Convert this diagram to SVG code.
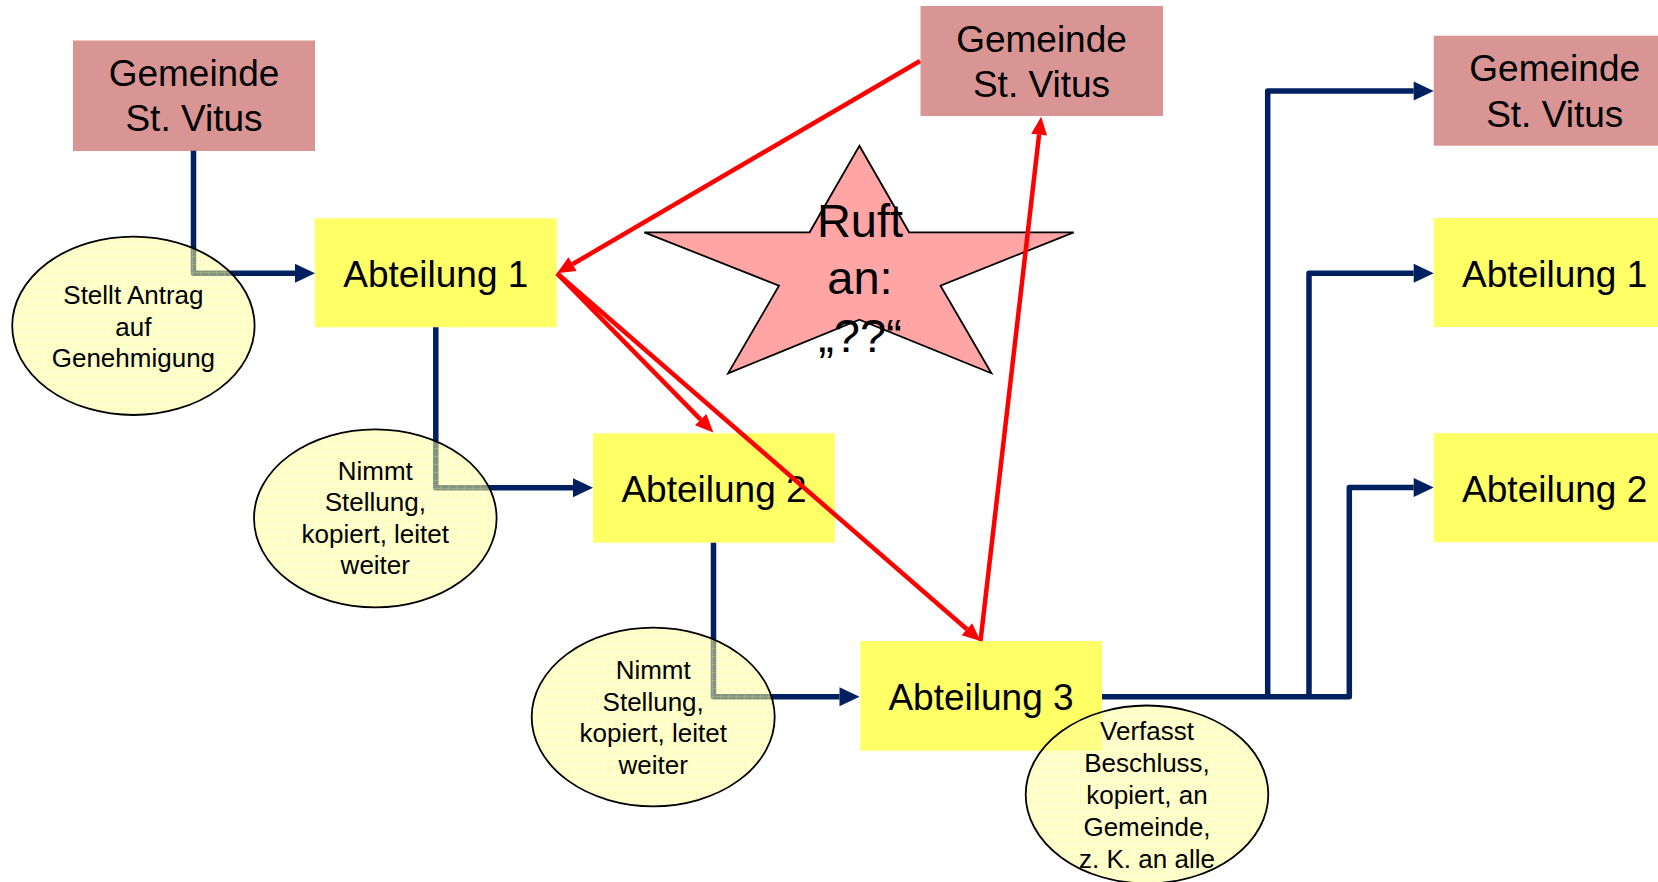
<svg xmlns="http://www.w3.org/2000/svg" width="1658" height="882" viewBox="0 0 1658 882">
  <style>
    .gem { fill: #d99594; }
    .abt { fill: #ffff66; }
    .big { font-family: "Liberation Sans", Arial, sans-serif; font-size: 37px; fill: #000; text-anchor: middle; }
    .small { font-family: "Liberation Sans", Arial, sans-serif; font-size: 26px; fill: #000; text-anchor: middle; }
    .star { fill: #ffa5a5; stroke: #000; stroke-width: 1.8; stroke-linejoin: miter; }
    .startext { font-family: "Liberation Sans", Arial, sans-serif; font-size: 47px; fill: #000; text-anchor: middle; }
    .note { fill: url(#grid); stroke: #000; stroke-width: 1.8; }
    .flow { fill: none; stroke: #002060; stroke-width: 5.5; stroke-linejoin: round; marker-end: url(#navyHead); }
    .call { fill: none; stroke: #ff0000; stroke-width: 4.5; marker-end: url(#redHead); }
  </style>
  <defs>
    <!-- translucent light-yellow grid fill for the note ellipses -->
    <pattern id="grid" width="8" height="8" patternUnits="userSpaceOnUse">
      <rect width="8" height="8" fill="#ffffa0" fill-opacity="0.52"/>
      <path d="M0 0.5H8M0.5 0V8" stroke="#f2ee90" stroke-opacity="0.22" stroke-width="1"/>
    </pattern>
    <marker id="navyHead" markerUnits="userSpaceOnUse" markerWidth="22" markerHeight="22" refX="0" refY="9.5" orient="auto" overflow="visible">
      <path d="M0 0 L20 9.5 L0 19 Z" fill="#002060"/>
    </marker>
    <marker id="redHead" markerUnits="userSpaceOnUse" markerWidth="20" markerHeight="18" refX="0" refY="8" orient="auto" overflow="visible">
      <path d="M0 0 L18 8 L0 16 Z" fill="#ff0000"/>
    </marker>
  </defs>

  <rect width="1658" height="882" fill="#ffffff"/>

  <!-- boxes -->
  <g id="gemeinde-1">
    <rect class="gem" x="73" y="40.5" width="242" height="110.5"/>
    <text class="big" x="194" y="86">Gemeinde</text>
    <text class="big" x="194" y="131">St. Vitus</text>
  </g>
  <g id="gemeinde-2">
    <rect class="gem" x="920.5" y="6" width="242.5" height="110"/>
    <text class="big" x="1041.5" y="51.5">Gemeinde</text>
    <text class="big" x="1041.5" y="96.5">St. Vitus</text>
  </g>
  <g id="gemeinde-3">
    <rect class="gem" x="1433.7" y="35.7" width="242" height="110"/>
    <text class="big" x="1554.7" y="81.2">Gemeinde</text>
    <text class="big" x="1554.7" y="126.5">St. Vitus</text>
  </g>
  <g id="abteilung-1">
    <rect class="abt" x="314.8" y="218.3" width="242" height="109"/>
    <text class="big" x="435.8" y="286.7">Abteilung 1</text>
  </g>
  <g id="abteilung-2">
    <rect class="abt" x="593" y="433.3" width="242" height="109.4"/>
    <text class="big" x="714" y="501.7">Abteilung 2</text>
  </g>
  <g id="abteilung-3">
    <rect class="abt" x="860.3" y="641" width="241.7" height="109.7"/>
    <text class="big" x="981" y="710">Abteilung 3</text>
  </g>
  <g id="abteilung-1-copy">
    <rect class="abt" x="1433.7" y="218" width="242" height="109"/>
    <text class="big" x="1554.7" y="286.8">Abteilung 1</text>
  </g>
  <g id="abteilung-2-copy">
    <rect class="abt" x="1433.7" y="433.2" width="242" height="109"/>
    <text class="big" x="1554.7" y="501.8">Abteilung 2</text>
  </g>

  <!-- callout star -->
  <g id="ruft-an">
    <polygon class="star" points="859.4,145.7 909.1,232.3 1073.7,232.3 940.5,285.7 991.4,373.3 859.4,319.7 728.1,373.3 779,285.7 644.3,232.3 809.6,232.3"/>
    <text class="startext" x="860" y="237">Ruft</text>
    <text class="startext" x="860" y="294">an:</text>
    <text class="startext" x="860" y="352">„??“</text>
  </g>

  <!-- connectors -->
  <g id="connectors">
    <path class="flow" d="M193.5 150.7 V273.3 H295"/>
    <path class="flow" d="M435.8 327.3 V487.7 H573"/>
    <path class="flow" d="M713.5 542.7 V696.7 H839.5"/>
    <path class="flow" d="M1102 696.7 H1349.3 V487.6 H1413.7"/>
    <path class="flow" d="M1267.7 696.7 V91 H1413.7"/>
    <path class="flow" d="M1309 696.7 V273.2 H1413.7"/>

    <path class="call" d="M920 61 L572.5 264.2"/>
    <path class="call" d="M557 273.3 L700.7 419.7"/>
    <path class="call" d="M557 273.3 L966.9 629.2"/>
    <path class="call" d="M980.5 641 L1039.1 134.6"/>
  </g>

  <!-- note ellipses -->
  <g id="note-antrag">
    <ellipse class="note" cx="133.4" cy="325.8" rx="121.2" ry="89.2"/>
    <text class="small" x="133.4" y="304">Stellt Antrag</text>
    <text class="small" x="133.4" y="335.5">auf</text>
    <text class="small" x="133.4" y="367">Genehmigung</text>
  </g>
  <g id="note-stellung-1">
    <ellipse class="note" cx="375.3" cy="518.3" rx="121.3" ry="89"/>
    <text class="small" x="375.3" y="479.5">Nimmt</text>
    <text class="small" x="375.3" y="511">Stellung,</text>
    <text class="small" x="375.3" y="542.5">kopiert, leitet</text>
    <text class="small" x="375.3" y="574">weiter</text>
  </g>
  <g id="note-stellung-2">
    <ellipse class="note" cx="653.2" cy="717" rx="121.5" ry="89.3"/>
    <text class="small" x="653.2" y="679">Nimmt</text>
    <text class="small" x="653.2" y="710.5">Stellung,</text>
    <text class="small" x="653.2" y="742">kopiert, leitet</text>
    <text class="small" x="653.2" y="773.5">weiter</text>
  </g>
  <g id="note-beschluss">
    <ellipse class="note" cx="1147" cy="794.5" rx="121.3" ry="89"/>
    <text class="small" x="1147" y="740">Verfasst</text>
    <text class="small" x="1147" y="772">Beschluss,</text>
    <text class="small" x="1147" y="804">kopiert, an</text>
    <text class="small" x="1147" y="836">Gemeinde,</text>
    <text class="small" x="1147" y="868">z. K. an alle</text>
  </g>
</svg>
